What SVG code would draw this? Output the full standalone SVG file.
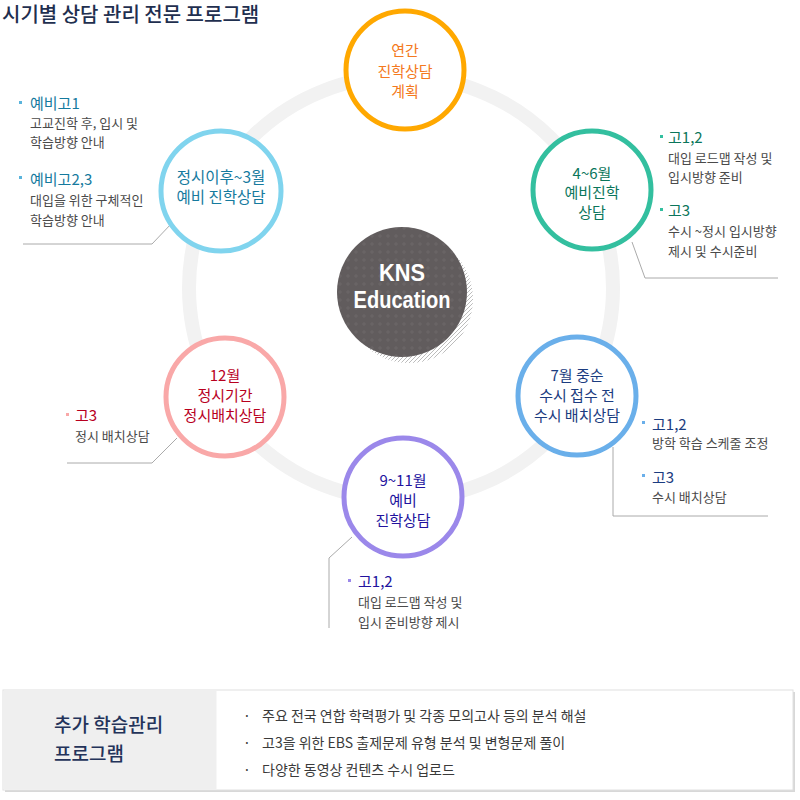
<svg xmlns="http://www.w3.org/2000/svg" width="800" height="800" viewBox="0 0 800 800">
<defs>
<style>
text{font-family:"Noto Sans CJK KR","Noto Sans",sans-serif;}
.node{fill:#fff;stroke-width:5;}
.nt{font-size:15px;text-anchor:middle;}
.h{font-size:15px;}
.d{font-size:13px;fill:#4a4a4a;}
.lead{fill:none;stroke:#aaaaaa;stroke-width:1;}
.bl{font-size:14px;fill:#3a3a3a;}
.logo{font-size:23px;fill:#fff;text-anchor:middle;font-family:"Liberation Sans",Arial,sans-serif;font-weight:bold;}
</style>
<pattern id="hatch" patternUnits="userSpaceOnUse" width="4" height="4">
<path d="M-1,5 L5,-1" stroke="#bcbcbc" stroke-width="1"/>
</pattern>
<pattern id="grid" patternUnits="userSpaceOnUse" width="8" height="8">
<rect width="8" height="8" fill="#615c5d"/>
<path d="M4,2 V6 M2,4 H6" stroke="#6b6667" stroke-width="1"/>
</pattern>
</defs>
<rect width="800" height="800" fill="#fff"/>
<text x="2" y="22" style="font-size:20px;fill:#1f2f4f;font-weight:500">시기별 상담 관리 전문 프로그램</text>

<g id="ring"><circle cx="401" cy="288" r="212" fill="none" stroke="#f2f2f2" stroke-width="14"/></g>

<g id="center">
<circle cx="409" cy="299" r="64" fill="url(#hatch)"/>
<circle cx="402" cy="292" r="65" fill="url(#grid)"/>
<text class="logo"><tspan x="402" y="281" textLength="46" lengthAdjust="spacingAndGlyphs">KNS</tspan><tspan x="402" y="308" textLength="97" lengthAdjust="spacingAndGlyphs">Education</tspan></text>
</g>

<g id="connectors">
<polyline class="lead" points="23,244 152,244 172,223"/>
<polyline class="lead" points="632,242 645,278 778,278"/>
<polyline class="lead" points="613,447 613,516 768,516"/>
<polyline class="lead" points="67,463 152,463 177,438"/>
<polyline class="lead" points="352,537 329,558 329,628"/>
</g>

<g id="node-annual">
<circle class="node" cx="405" cy="70" r="59" stroke="#ffa800"/>
<text class="nt" x="405" fill="#f47920"><tspan x="405" y="56">연간</tspan><tspan x="405" y="77">진학상담</tspan><tspan x="405" y="97">계획</tspan></text>
</g>

<g id="node-apr-jun">
<circle class="node" cx="592" cy="190" r="59" stroke="#33bf9f"/>
<text class="nt" fill="#0b765b"><tspan x="592" y="179">4~6월</tspan><tspan x="592" y="198">예비진학</tspan><tspan x="592" y="218">상담</tspan></text>
</g>

<g id="node-jul">
<circle class="node" cx="577" cy="396" r="59" stroke="#6aafea"/>
<text class="nt" fill="#1b3c80"><tspan x="577" y="381">7월 중순</tspan><tspan x="577" y="401">수시 접수 전</tspan><tspan x="577" y="421">수시 배치상담</tspan></text>
</g>

<g id="node-sep-nov">
<circle class="node" cx="403" cy="497" r="59" stroke="#9b88ea"/>
<text class="nt" fill="#22129e"><tspan x="403" y="486">9~11월</tspan><tspan x="403" y="506">예비</tspan><tspan x="403" y="526">진학상담</tspan></text>
</g>

<g id="node-dec">
<circle class="node" cx="225" cy="397" r="59" stroke="#f9a8a8"/>
<text class="nt" fill="#b8001e"><tspan x="225" y="381">12월</tspan><tspan x="225" y="401">정시기간</tspan><tspan x="225" y="421">정시배치상담</tspan></text>
</g>

<g id="node-after-jeongsi">
<circle class="node" cx="221" cy="191" r="60" stroke="#80d4ee"/>
<text class="nt" fill="#157a9e" style="font-size:15.5px"><tspan x="221" y="183">정시이후~3월</tspan><tspan x="221" y="203">예비 진학상담</tspan></text>
</g>

<g id="notes-after-jeongsi">
<rect x="19" y="101" width="3" height="3" fill="#5ab4dc"/>
<text class="h" x="30" y="109" fill="#157a9e">예비고1</text>
<text class="d" x="30" y="128">고교진학 후, 입시 및</text>
<text class="d" x="30" y="147">학습방향 안내</text>
<rect x="19" y="176" width="3" height="3" fill="#5ab4dc"/>
<text class="h" x="30" y="185" fill="#157a9e">예비고2,3</text>
<text class="d" x="30" y="205">대입을 위한 구체적인</text>
<text class="d" x="30" y="225">학습방향 안내</text>
</g>

<g id="notes-apr-jun">
<rect x="660" y="135" width="3" height="3" fill="#33bf9f"/>
<text class="h" x="668" y="143" fill="#0b765b">고1,2</text>
<text class="d" x="668" y="163">대입 로드맵 작성 및</text>
<text class="d" x="668" y="182">입시방향 준비</text>
<rect x="660" y="208" width="3" height="3" fill="#33bf9f"/>
<text class="h" x="668" y="216" fill="#0b765b">고3</text>
<text class="d" x="668" y="236">수시 ~정시 입시방향</text>
<text class="d" x="668" y="256">제시 및 수시준비</text>
</g>

<g id="notes-jul">
<rect x="642" y="421" width="3" height="3" fill="#6aafea"/>
<text class="h" x="652" y="430" fill="#1b3c80">고1,2</text>
<text class="d" x="652" y="448">방학 학습 스케줄 조정</text>
<rect x="642" y="474" width="3" height="3" fill="#6aafea"/>
<text class="h" x="652" y="483" fill="#1b3c80">고3</text>
<text class="d" x="652" y="502">수시 배치상담</text>
</g>

<g id="notes-dec">
<rect x="66" y="413" width="3" height="3" fill="#f9a8a8"/>
<text class="h" x="75" y="421" fill="#b8001e">고3</text>
<text class="d" x="75" y="441">정시 배치상담</text>
</g>

<g id="notes-sep-nov">
<rect x="348" y="579" width="3" height="3" fill="#9b88ea"/>
<text class="h" x="358" y="587" fill="#22129e">고1,2</text>
<text class="d" x="358" y="607">대입 로드맵 작성 및</text>
<text class="d" x="358" y="627">입시 준비방향 제시</text>
</g>

<g id="extra-program">
<rect x="5" y="692" width="790" height="100" fill="#d8d8d8"/>
<rect x="3" y="690" width="790" height="100" fill="#fff" stroke="#e0e0e0" stroke-width="1"/>
<rect x="3.5" y="690.5" width="213" height="99" fill="#efefef"/>
<text x="54" y="732" style="font-size:19px;fill:#24335a;font-weight:500">추가 학습관리</text>
<text x="54" y="761" style="font-size:19px;fill:#24335a;font-weight:500">프로그램</text>
<text class="bl" x="243" y="721">·</text>
<text class="bl" x="262" y="721">주요 전국 연합 학력평가 및 각종 모의고사 등의 분석 해설</text>
<text class="bl" x="243" y="748">·</text>
<text class="bl" x="262" y="748">고3을 위한 EBS 출제문제 유형 분석 및 변형문제 풀이</text>
<text class="bl" x="243" y="775">·</text>
<text class="bl" x="262" y="775">다양한 동영상 컨텐츠 수시 업로드</text>
</g>
</svg>
